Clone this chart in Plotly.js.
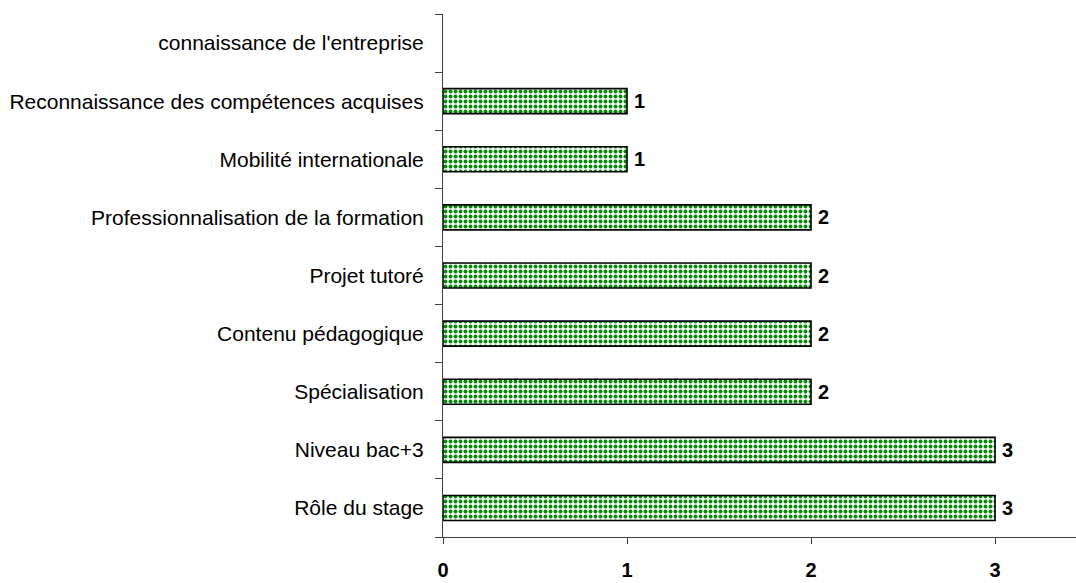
<!DOCTYPE html>
<html>
<head>
<meta charset="utf-8">
<script src="https://cdn.plot.ly/plotly-3.0.1.min.js"></script>
<style>html,body{margin:0;padding:0;background:#fff;}#chart{width:1076px;height:583px;}</style>
</head>
<body>
<div id="chart"></div>
<script>
const categories = [
  "Rôle du stage",
  "Niveau bac+3",
  "Spécialisation",
  "Contenu pédagogique",
  "Projet tutoré",
  "Professionnalisation de la formation",
  "Mobilité internationale",
  "Reconnaissance des compétences acquises",
  "connaissance de l'entreprise"
];
const values = [3, 3, 2, 2, 2, 2, 1, 1, 0];
const xTickValues = [0, 1, 2, 3];
const xTickLabels = ["0", "1", "2", "3"];

const numFont = "Liberation Sans, Arial, sans-serif";

const trace = {
  type: "bar",
  orientation: "h",
  y: categories,
  x: values,
  text: values.map(v => v ? "\u2009" + String(v) : ""),
  textposition: "outside",
  constraintext: "none",
  cliponaxis: false,
  textfont: {family: numFont, size: 20, color: "#000", weight: "bold"},
  marker: {
    color: "#ffffff",
    line: {color: "#000000", width: values.map(v => v ? 1.6 : 0)},
    pattern: {shape: ".", fgcolor: "#0a8a0a", bgcolor: "#ffffff", size: 5, solidity: 0.5}
  },
  hoverinfo: "none"
};

const layout = {
  width: 1076,
  height: 583,
  margin: {l: 443, r: 0, t: 14, b: 46},
  paper_bgcolor: "#ffffff",
  plot_bgcolor: "#ffffff",
  showlegend: false,
  bargap: 0.57,
  xaxis: {
    range: [0, 3.44],
    tickvals: xTickValues,
    ticktext: xTickLabels,
    showgrid: false,
    zeroline: false,
    showline: true,
    linecolor: "#404040",
    linewidth: 1,
    ticks: "outside",
    ticklen: 6,
    tickcolor: "#404040",
    tickfont: {family: numFont, size: 20, color: "#000", weight: "bold"},
    ticklabelstandoff: 9
  },
  yaxis: {
    type: "category",
    showgrid: false,
    zeroline: false,
    showline: true,
    linecolor: "#404040",
    linewidth: 1,
    ticks: "outside",
    tickson: "boundaries",
    ticklen: 7,
    tickcolor: "#404040",
    ticklabelstandoff: 14,
    tickfont: {family: "Liberation Sans, Arial, sans-serif", size: 21, color: "#000"}
  }
};

Plotly.newPlot("chart", [trace], layout, {staticPlot: true, displayModeBar: false});
</script>
</body>
</html>
